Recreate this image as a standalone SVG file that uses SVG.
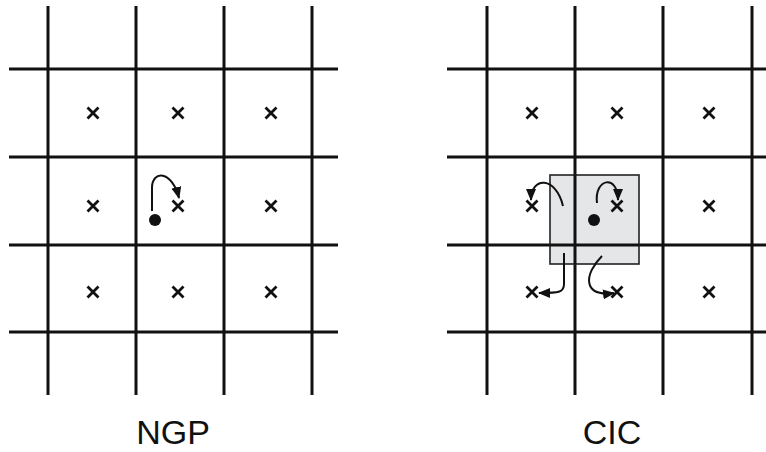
<svg xmlns="http://www.w3.org/2000/svg" width="766" height="452" viewBox="0 0 766 452">
  <style>
    .grid { stroke: #111; stroke-width: 3; fill: none; }
    .pt { stroke: #111; stroke-width: 2.8; fill: none; stroke-linecap: butt; }
    .flow { stroke: #111; stroke-width: 2; fill: none; marker-end: url(#head); }
    .dot { fill: #111; }
    .cloud { fill: #e4e6e8; stroke: #222; stroke-width: 1.6; }
    .label { font-family: "Liberation Sans", Arial, sans-serif; font-size: 34px; fill: #111; text-anchor: middle; }
  </style>
  <defs>
    <marker id="head" viewBox="0 0 12 10" refX="11" refY="5" markerWidth="12" markerHeight="10" markerUnits="userSpaceOnUse" orient="auto">
      <path d="M0,0 L12,5 L0,10 Z" fill="#111"/>
    </marker>
    <path id="x" d="M-5.5,-5.5 L5.5,5.5 M-5.5,5.5 L5.5,-5.5" class="pt"/>
  </defs>

  <rect width="766" height="452" fill="#fff"/>

  <!-- NGP panel -->
  <g id="ngp-grid" class="grid">
    <path d="M48,6 V395 M136,6 V395 M224,6 V395 M312,6 V395"/>
    <path d="M9,69 H338 M9,157 H338 M9,245 H338 M9,332 H338"/>
  </g>
  <g id="ngp-points">
    <use href="#x" x="93" y="113"/><use href="#x" x="178" y="113"/><use href="#x" x="271" y="113"/>
    <use href="#x" x="93" y="206"/><use href="#x" x="178" y="206"/><use href="#x" x="271" y="206"/>
    <use href="#x" x="93" y="292"/><use href="#x" x="178" y="292"/><use href="#x" x="271" y="292"/>
  </g>
  <g id="ngp-particle">
    <circle class="dot" cx="155" cy="220" r="6"/>
  </g>
  <text id="ngp-label" class="label" x="173" y="444">NGP</text>

  <!-- CIC panel -->
  <g id="cic-grid" class="grid">
    <path d="M487,6 V395 M575,6 V395 M663,6 V395 M752,6 V395"/>
    <path d="M447,69 H766 M447,157 H766 M447,245 H766 M447,332 H766"/>
  </g>
  <g id="cic-cloud">
    <rect class="cloud" x="550" y="175" width="89" height="89"/>
  </g>
  <g id="cic-grid-over" class="grid">
    <path d="M575,175 V264 M550,245 H639"/>
  </g>
  <g id="cic-points">
    <use href="#x" x="532" y="113"/><use href="#x" x="617" y="113"/><use href="#x" x="709" y="113"/>
    <use href="#x" x="532" y="206"/><use href="#x" x="617" y="206"/><use href="#x" x="709" y="206"/>
    <use href="#x" x="532" y="292"/><use href="#x" x="617" y="292"/><use href="#x" x="709" y="292"/>
  </g>
  <g id="cic-particle">
    <circle class="dot" cx="594" cy="220" r="6"/>
  </g>
  <text id="cic-label" class="label" x="612" y="444">CIC</text>

  <!-- assignment arrows -->
  <g id="connectors">
    <path class="flow" d="M152,211 L152,188 C152,170 172,170 179,198"/>
    <path class="flow" d="M597,203 C594,178 618,174 618,200"/>
    <path class="flow" d="M563,206 C556,176 531,176 531,200"/>
    <path class="flow" d="M564,253 L564,284 C564,292 560,293 539,293"/>
    <path class="flow" d="M602,256 C584,274 582,297 614,293"/>
  </g>
</svg>
